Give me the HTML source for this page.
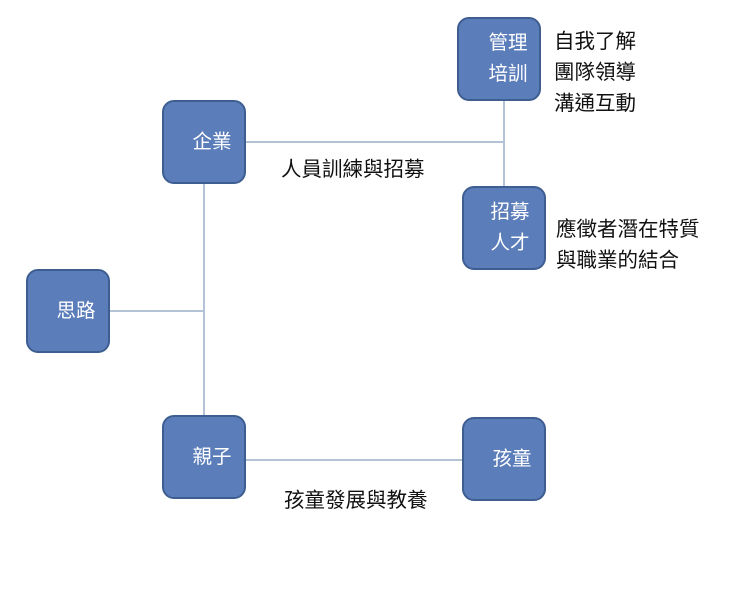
<!DOCTYPE html>
<html><head><meta charset="utf-8"><style>
body{margin:0;width:756px;height:593px;background:#fff;position:relative;overflow:hidden;font-family:"Liberation Sans","Noto Sans CJK TC",sans-serif}
.b{position:absolute;width:84px;height:84px;background:#5b7dba;border:2px solid #3e5e92;border-radius:12px;color:#fff;font-size:19.5px;box-sizing:border-box;display:flex;flex-direction:column;justify-content:center;align-items:center;line-height:31px;padding-left:16px}
.l{position:absolute;background:#b4c2d6}
.t{position:absolute;font-size:20.5px;color:#111;line-height:31px;white-space:nowrap}
</style></head><body>
<div class="l" style="left:245px;top:141px;width:260px;height:2px"></div>
<div class="l" style="left:503px;top:100px;width:2px;height:88px"></div>
<div class="l" style="left:203px;top:183px;width:2px;height:233px"></div>
<div class="l" style="left:109px;top:310px;width:95px;height:2px"></div>
<div class="l" style="left:245px;top:459px;width:218px;height:2px"></div>
<div class="b" style="left:457px;top:17px;padding-left:18px">管理<br>培訓</div>
<div class="b" style="left:162px;top:100px">企業</div>
<div class="b" style="left:462px;top:186px;padding-left:12px">招募<br>人才</div>
<div class="b" style="left:26px;top:269px">思路</div>
<div class="b" style="left:162px;top:415px">親子</div>
<div class="b" style="left:462px;top:417px">孩童</div>
<div class="t" style="left:554px;top:26px">自我了解<br>團隊領導<br>溝通互動</div>
<div class="t" style="left:281px;top:154px">人員訓練與招募</div>
<div class="t" style="left:556px;top:214px">應徵者潛在特質<br>與職業的結合</div>
<div class="t" style="left:284px;top:485px">孩童發展與教養</div>
</body></html>
